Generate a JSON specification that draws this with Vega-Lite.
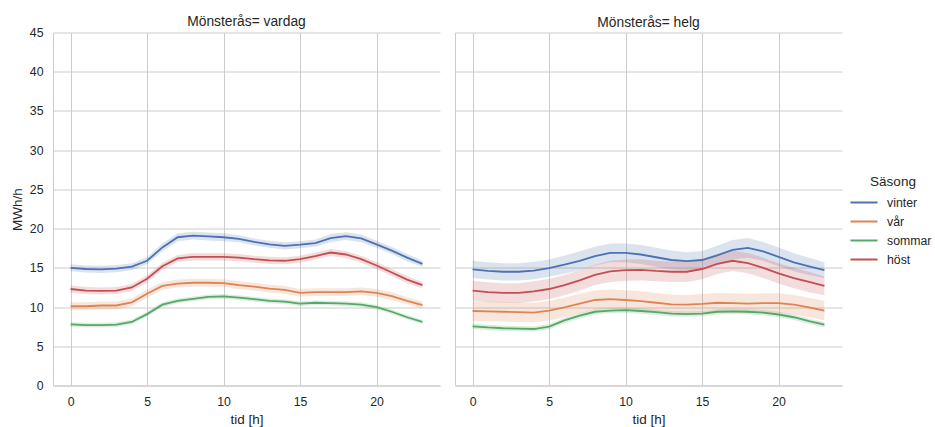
{
"$schema": "https://vega.github.io/schema/vega-lite/v6.json",
"padding": {"left": 10, "top": 14.5, "right": 5, "bottom": 0},
"config": {
 "font": "Liberation Sans",
 "view": {"stroke": null},
 "axis": {"gridColor": "#cccccc", "domainColor": "#cccccc", "ticks": false, "labelColor": "#262626", "titleColor": "#262626", "labelFontSize": 12.3, "titleFontSize": 13.5, "titleFontWeight": "normal", "labelPadding": 10, "titlePadding": 5, "gridWidth": 1, "domainWidth": 1},
 "title": {"fontSize": 13.8, "fontWeight": "normal", "color": "#262626"},
 "legend": {"titleFontSize": 13.5, "titleFontWeight": "normal", "labelFontSize": 12.3, "labelColor": "#262626", "titleColor": "#262626", "symbolType": "M-1.5,0H1.5", "symbolStrokeWidth": 2, "symbolSize": 324, "symbolOpacity": 1, "labelOffset": 13, "titleAnchor": "middle", "titlePadding": 4.5},
 "concat": {"spacing": 15}
},
"datasets": {"d": [
{"d":"vardag","s":"vinter","h":0,"v":15.0,"lo":14.55,"hi":15.45},
{"d":"vardag","s":"vinter","h":1,"v":14.85,"lo":14.4,"hi":15.3},
{"d":"vardag","s":"vinter","h":2,"v":14.8,"lo":14.35,"hi":15.25},
{"d":"vardag","s":"vinter","h":3,"v":14.9,"lo":14.45,"hi":15.35},
{"d":"vardag","s":"vinter","h":4,"v":15.15,"lo":14.7,"hi":15.6},
{"d":"vardag","s":"vinter","h":5,"v":15.9,"lo":15.45,"hi":16.35},
{"d":"vardag","s":"vinter","h":6,"v":17.6,"lo":17.1,"hi":18.1},
{"d":"vardag","s":"vinter","h":7,"v":18.9,"lo":18.4,"hi":19.4},
{"d":"vardag","s":"vinter","h":8,"v":19.1,"lo":18.6,"hi":19.6},
{"d":"vardag","s":"vinter","h":9,"v":19.0,"lo":18.5,"hi":19.5},
{"d":"vardag","s":"vinter","h":10,"v":18.9,"lo":18.4,"hi":19.4},
{"d":"vardag","s":"vinter","h":11,"v":18.7,"lo":18.25,"hi":19.15},
{"d":"vardag","s":"vinter","h":12,"v":18.3,"lo":17.85,"hi":18.75},
{"d":"vardag","s":"vinter","h":13,"v":18.0,"lo":17.55,"hi":18.45},
{"d":"vardag","s":"vinter","h":14,"v":17.8,"lo":17.35,"hi":18.25},
{"d":"vardag","s":"vinter","h":15,"v":17.95,"lo":17.5,"hi":18.4},
{"d":"vardag","s":"vinter","h":16,"v":18.15,"lo":17.7,"hi":18.6},
{"d":"vardag","s":"vinter","h":17,"v":18.8,"lo":18.3,"hi":19.3},
{"d":"vardag","s":"vinter","h":18,"v":19.05,"lo":18.55,"hi":19.55},
{"d":"vardag","s":"vinter","h":19,"v":18.75,"lo":18.25,"hi":19.25},
{"d":"vardag","s":"vinter","h":20,"v":18.0,"lo":17.55,"hi":18.45},
{"d":"vardag","s":"vinter","h":21,"v":17.2,"lo":16.75,"hi":17.65},
{"d":"vardag","s":"vinter","h":22,"v":16.3,"lo":15.85,"hi":16.75},
{"d":"vardag","s":"vinter","h":23,"v":15.5,"lo":15.1,"hi":15.9},
{"d":"vardag","s":"vår","h":0,"v":10.1,"lo":9.6,"hi":10.6},
{"d":"vardag","s":"vår","h":1,"v":10.1,"lo":9.6,"hi":10.6},
{"d":"vardag","s":"vår","h":2,"v":10.2,"lo":9.7,"hi":10.7},
{"d":"vardag","s":"vår","h":3,"v":10.2,"lo":9.7,"hi":10.7},
{"d":"vardag","s":"vår","h":4,"v":10.6,"lo":10.1,"hi":11.1},
{"d":"vardag","s":"vår","h":5,"v":11.7,"lo":11.2,"hi":12.2},
{"d":"vardag","s":"vår","h":6,"v":12.7,"lo":12.2,"hi":13.2},
{"d":"vardag","s":"vår","h":7,"v":13.0,"lo":12.5,"hi":13.5},
{"d":"vardag","s":"vår","h":8,"v":13.1,"lo":12.6,"hi":13.6},
{"d":"vardag","s":"vår","h":9,"v":13.1,"lo":12.6,"hi":13.6},
{"d":"vardag","s":"vår","h":10,"v":13.05,"lo":12.55,"hi":13.55},
{"d":"vardag","s":"vår","h":11,"v":12.8,"lo":12.3,"hi":13.3},
{"d":"vardag","s":"vår","h":12,"v":12.6,"lo":12.1,"hi":13.1},
{"d":"vardag","s":"vår","h":13,"v":12.35,"lo":11.85,"hi":12.85},
{"d":"vardag","s":"vår","h":14,"v":12.2,"lo":11.7,"hi":12.7},
{"d":"vardag","s":"vår","h":15,"v":11.8,"lo":11.3,"hi":12.3},
{"d":"vardag","s":"vår","h":16,"v":11.9,"lo":11.4,"hi":12.4},
{"d":"vardag","s":"vår","h":17,"v":11.9,"lo":11.4,"hi":12.4},
{"d":"vardag","s":"vår","h":18,"v":11.9,"lo":11.4,"hi":12.4},
{"d":"vardag","s":"vår","h":19,"v":12.0,"lo":11.5,"hi":12.5},
{"d":"vardag","s":"vår","h":20,"v":11.8,"lo":11.3,"hi":12.3},
{"d":"vardag","s":"vår","h":21,"v":11.4,"lo":10.9,"hi":11.9},
{"d":"vardag","s":"vår","h":22,"v":10.8,"lo":10.35,"hi":11.25},
{"d":"vardag","s":"vår","h":23,"v":10.25,"lo":9.8,"hi":10.7},
{"d":"vardag","s":"sommar","h":0,"v":7.8,"lo":7.5,"hi":8.1},
{"d":"vardag","s":"sommar","h":1,"v":7.7,"lo":7.4,"hi":8.0},
{"d":"vardag","s":"sommar","h":2,"v":7.7,"lo":7.4,"hi":8.0},
{"d":"vardag","s":"sommar","h":3,"v":7.75,"lo":7.45,"hi":8.05},
{"d":"vardag","s":"sommar","h":4,"v":8.1,"lo":7.8,"hi":8.4},
{"d":"vardag","s":"sommar","h":5,"v":9.1,"lo":8.8,"hi":9.4},
{"d":"vardag","s":"sommar","h":6,"v":10.3,"lo":10.0,"hi":10.6},
{"d":"vardag","s":"sommar","h":7,"v":10.8,"lo":10.5,"hi":11.1},
{"d":"vardag","s":"sommar","h":8,"v":11.05,"lo":10.75,"hi":11.35},
{"d":"vardag","s":"sommar","h":9,"v":11.3,"lo":11.0,"hi":11.6},
{"d":"vardag","s":"sommar","h":10,"v":11.35,"lo":11.05,"hi":11.65},
{"d":"vardag","s":"sommar","h":11,"v":11.2,"lo":10.9,"hi":11.5},
{"d":"vardag","s":"sommar","h":12,"v":11.0,"lo":10.7,"hi":11.3},
{"d":"vardag","s":"sommar","h":13,"v":10.8,"lo":10.5,"hi":11.1},
{"d":"vardag","s":"sommar","h":14,"v":10.7,"lo":10.4,"hi":11.0},
{"d":"vardag","s":"sommar","h":15,"v":10.45,"lo":10.15,"hi":10.75},
{"d":"vardag","s":"sommar","h":16,"v":10.55,"lo":10.25,"hi":10.85},
{"d":"vardag","s":"sommar","h":17,"v":10.5,"lo":10.2,"hi":10.8},
{"d":"vardag","s":"sommar","h":18,"v":10.45,"lo":10.15,"hi":10.75},
{"d":"vardag","s":"sommar","h":19,"v":10.3,"lo":10.0,"hi":10.6},
{"d":"vardag","s":"sommar","h":20,"v":10.0,"lo":9.7,"hi":10.3},
{"d":"vardag","s":"sommar","h":21,"v":9.4,"lo":9.1,"hi":9.7},
{"d":"vardag","s":"sommar","h":22,"v":8.7,"lo":8.4,"hi":9.0},
{"d":"vardag","s":"sommar","h":23,"v":8.1,"lo":7.85,"hi":8.35},
{"d":"vardag","s":"höst","h":0,"v":12.3,"lo":11.85,"hi":12.75},
{"d":"vardag","s":"höst","h":1,"v":12.1,"lo":11.65,"hi":12.55},
{"d":"vardag","s":"höst","h":2,"v":12.05,"lo":11.6,"hi":12.5},
{"d":"vardag","s":"höst","h":3,"v":12.1,"lo":11.65,"hi":12.55},
{"d":"vardag","s":"höst","h":4,"v":12.5,"lo":12.05,"hi":12.95},
{"d":"vardag","s":"höst","h":5,"v":13.6,"lo":13.15,"hi":14.05},
{"d":"vardag","s":"höst","h":6,"v":15.2,"lo":14.75,"hi":15.65},
{"d":"vardag","s":"höst","h":7,"v":16.2,"lo":15.75,"hi":16.65},
{"d":"vardag","s":"höst","h":8,"v":16.4,"lo":15.95,"hi":16.85},
{"d":"vardag","s":"höst","h":9,"v":16.4,"lo":15.95,"hi":16.85},
{"d":"vardag","s":"höst","h":10,"v":16.4,"lo":15.95,"hi":16.85},
{"d":"vardag","s":"höst","h":11,"v":16.3,"lo":15.85,"hi":16.75},
{"d":"vardag","s":"höst","h":12,"v":16.1,"lo":15.65,"hi":16.55},
{"d":"vardag","s":"höst","h":13,"v":15.95,"lo":15.5,"hi":16.4},
{"d":"vardag","s":"höst","h":14,"v":15.9,"lo":15.45,"hi":16.35},
{"d":"vardag","s":"höst","h":15,"v":16.1,"lo":15.65,"hi":16.55},
{"d":"vardag","s":"höst","h":16,"v":16.5,"lo":16.05,"hi":16.95},
{"d":"vardag","s":"höst","h":17,"v":16.95,"lo":16.5,"hi":17.4},
{"d":"vardag","s":"höst","h":18,"v":16.7,"lo":16.25,"hi":17.15},
{"d":"vardag","s":"höst","h":19,"v":16.1,"lo":15.65,"hi":16.55},
{"d":"vardag","s":"höst","h":20,"v":15.3,"lo":14.85,"hi":15.75},
{"d":"vardag","s":"höst","h":21,"v":14.4,"lo":13.95,"hi":14.85},
{"d":"vardag","s":"höst","h":22,"v":13.5,"lo":13.05,"hi":13.95},
{"d":"vardag","s":"höst","h":23,"v":12.8,"lo":12.4,"hi":13.2},
{"d":"helg","s":"vinter","h":0,"v":14.8,"lo":13.7,"hi":15.9},
{"d":"helg","s":"vinter","h":1,"v":14.6,"lo":13.5,"hi":15.7},
{"d":"helg","s":"vinter","h":2,"v":14.5,"lo":13.4,"hi":15.6},
{"d":"helg","s":"vinter","h":3,"v":14.5,"lo":13.4,"hi":15.6},
{"d":"helg","s":"vinter","h":4,"v":14.65,"lo":13.55,"hi":15.75},
{"d":"helg","s":"vinter","h":5,"v":14.95,"lo":13.85,"hi":16.05},
{"d":"helg","s":"vinter","h":6,"v":15.4,"lo":14.25,"hi":16.55},
{"d":"helg","s":"vinter","h":7,"v":15.9,"lo":14.7,"hi":17.1},
{"d":"helg","s":"vinter","h":8,"v":16.5,"lo":15.3,"hi":17.7},
{"d":"helg","s":"vinter","h":9,"v":16.9,"lo":15.7,"hi":18.1},
{"d":"helg","s":"vinter","h":10,"v":16.9,"lo":15.7,"hi":18.1},
{"d":"helg","s":"vinter","h":11,"v":16.7,"lo":15.5,"hi":17.9},
{"d":"helg","s":"vinter","h":12,"v":16.35,"lo":15.15,"hi":17.55},
{"d":"helg","s":"vinter","h":13,"v":16.0,"lo":14.8,"hi":17.2},
{"d":"helg","s":"vinter","h":14,"v":15.85,"lo":14.7,"hi":17.0},
{"d":"helg","s":"vinter","h":15,"v":16.0,"lo":14.85,"hi":17.15},
{"d":"helg","s":"vinter","h":16,"v":16.6,"lo":15.4,"hi":17.8},
{"d":"helg","s":"vinter","h":17,"v":17.3,"lo":16.05,"hi":18.55},
{"d":"helg","s":"vinter","h":18,"v":17.55,"lo":16.3,"hi":18.8},
{"d":"helg","s":"vinter","h":19,"v":17.1,"lo":15.9,"hi":18.3},
{"d":"helg","s":"vinter","h":20,"v":16.4,"lo":15.2,"hi":17.6},
{"d":"helg","s":"vinter","h":21,"v":15.7,"lo":14.55,"hi":16.85},
{"d":"helg","s":"vinter","h":22,"v":15.2,"lo":14.1,"hi":16.3},
{"d":"helg","s":"vinter","h":23,"v":14.7,"lo":13.7,"hi":15.7},
{"d":"helg","s":"vår","h":0,"v":9.5,"lo":8.25,"hi":10.75},
{"d":"helg","s":"vår","h":1,"v":9.45,"lo":8.2,"hi":10.7},
{"d":"helg","s":"vår","h":2,"v":9.4,"lo":8.15,"hi":10.65},
{"d":"helg","s":"vår","h":3,"v":9.35,"lo":8.1,"hi":10.6},
{"d":"helg","s":"vår","h":4,"v":9.3,"lo":8.05,"hi":10.55},
{"d":"helg","s":"vår","h":5,"v":9.55,"lo":8.3,"hi":10.8},
{"d":"helg","s":"vår","h":6,"v":9.95,"lo":8.7,"hi":11.2},
{"d":"helg","s":"vår","h":7,"v":10.45,"lo":9.2,"hi":11.7},
{"d":"helg","s":"vår","h":8,"v":10.9,"lo":9.65,"hi":12.15},
{"d":"helg","s":"vår","h":9,"v":11.0,"lo":9.75,"hi":12.25},
{"d":"helg","s":"vår","h":10,"v":10.9,"lo":9.65,"hi":12.15},
{"d":"helg","s":"vår","h":11,"v":10.75,"lo":9.5,"hi":12.0},
{"d":"helg","s":"vår","h":12,"v":10.55,"lo":9.3,"hi":11.8},
{"d":"helg","s":"vår","h":13,"v":10.35,"lo":9.1,"hi":11.6},
{"d":"helg","s":"vår","h":14,"v":10.3,"lo":9.05,"hi":11.55},
{"d":"helg","s":"vår","h":15,"v":10.4,"lo":9.15,"hi":11.65},
{"d":"helg","s":"vår","h":16,"v":10.55,"lo":9.3,"hi":11.8},
{"d":"helg","s":"vår","h":17,"v":10.5,"lo":9.25,"hi":11.75},
{"d":"helg","s":"vår","h":18,"v":10.45,"lo":9.2,"hi":11.7},
{"d":"helg","s":"vår","h":19,"v":10.5,"lo":9.25,"hi":11.75},
{"d":"helg","s":"vår","h":20,"v":10.5,"lo":9.25,"hi":11.75},
{"d":"helg","s":"vår","h":21,"v":10.3,"lo":9.05,"hi":11.55},
{"d":"helg","s":"vår","h":22,"v":9.95,"lo":8.7,"hi":11.2},
{"d":"helg","s":"vår","h":23,"v":9.55,"lo":8.3,"hi":10.8},
{"d":"helg","s":"sommar","h":0,"v":7.55,"lo":7.2,"hi":7.9},
{"d":"helg","s":"sommar","h":1,"v":7.4,"lo":7.05,"hi":7.75},
{"d":"helg","s":"sommar","h":2,"v":7.3,"lo":6.95,"hi":7.65},
{"d":"helg","s":"sommar","h":3,"v":7.25,"lo":6.9,"hi":7.6},
{"d":"helg","s":"sommar","h":4,"v":7.2,"lo":6.85,"hi":7.55},
{"d":"helg","s":"sommar","h":5,"v":7.5,"lo":7.15,"hi":7.85},
{"d":"helg","s":"sommar","h":6,"v":8.3,"lo":7.95,"hi":8.65},
{"d":"helg","s":"sommar","h":7,"v":8.9,"lo":8.55,"hi":9.25},
{"d":"helg","s":"sommar","h":8,"v":9.4,"lo":9.05,"hi":9.75},
{"d":"helg","s":"sommar","h":9,"v":9.55,"lo":9.2,"hi":9.9},
{"d":"helg","s":"sommar","h":10,"v":9.6,"lo":9.25,"hi":9.95},
{"d":"helg","s":"sommar","h":11,"v":9.5,"lo":9.15,"hi":9.85},
{"d":"helg","s":"sommar","h":12,"v":9.35,"lo":9.0,"hi":9.7},
{"d":"helg","s":"sommar","h":13,"v":9.15,"lo":8.8,"hi":9.5},
{"d":"helg","s":"sommar","h":14,"v":9.1,"lo":8.75,"hi":9.45},
{"d":"helg","s":"sommar","h":15,"v":9.15,"lo":8.8,"hi":9.5},
{"d":"helg","s":"sommar","h":16,"v":9.4,"lo":9.05,"hi":9.75},
{"d":"helg","s":"sommar","h":17,"v":9.45,"lo":9.1,"hi":9.8},
{"d":"helg","s":"sommar","h":18,"v":9.4,"lo":9.05,"hi":9.75},
{"d":"helg","s":"sommar","h":19,"v":9.3,"lo":8.95,"hi":9.65},
{"d":"helg","s":"sommar","h":20,"v":9.05,"lo":8.7,"hi":9.4},
{"d":"helg","s":"sommar","h":21,"v":8.7,"lo":8.35,"hi":9.05},
{"d":"helg","s":"sommar","h":22,"v":8.2,"lo":7.85,"hi":8.55},
{"d":"helg","s":"sommar","h":23,"v":7.75,"lo":7.4,"hi":8.1},
{"d":"helg","s":"höst","h":0,"v":12.1,"lo":10.85,"hi":13.35},
{"d":"helg","s":"höst","h":1,"v":11.9,"lo":10.65,"hi":13.15},
{"d":"helg","s":"höst","h":2,"v":11.8,"lo":10.55,"hi":13.05},
{"d":"helg","s":"höst","h":3,"v":11.8,"lo":10.55,"hi":13.05},
{"d":"helg","s":"höst","h":4,"v":12.0,"lo":10.7,"hi":13.3},
{"d":"helg","s":"höst","h":5,"v":12.3,"lo":11.0,"hi":13.6},
{"d":"helg","s":"höst","h":6,"v":12.8,"lo":11.5,"hi":14.1},
{"d":"helg","s":"höst","h":7,"v":13.4,"lo":12.1,"hi":14.7},
{"d":"helg","s":"höst","h":8,"v":14.1,"lo":12.8,"hi":15.4},
{"d":"helg","s":"höst","h":9,"v":14.55,"lo":13.2,"hi":15.9},
{"d":"helg","s":"höst","h":10,"v":14.7,"lo":13.35,"hi":16.05},
{"d":"helg","s":"höst","h":11,"v":14.75,"lo":13.4,"hi":16.1},
{"d":"helg","s":"höst","h":12,"v":14.6,"lo":13.3,"hi":15.9},
{"d":"helg","s":"höst","h":13,"v":14.5,"lo":13.2,"hi":15.8},
{"d":"helg","s":"höst","h":14,"v":14.5,"lo":13.2,"hi":15.8},
{"d":"helg","s":"höst","h":15,"v":14.85,"lo":13.55,"hi":16.15},
{"d":"helg","s":"höst","h":16,"v":15.5,"lo":14.2,"hi":16.8},
{"d":"helg","s":"höst","h":17,"v":15.9,"lo":14.6,"hi":17.2},
{"d":"helg","s":"höst","h":18,"v":15.6,"lo":14.3,"hi":16.9},
{"d":"helg","s":"höst","h":19,"v":15.0,"lo":13.7,"hi":16.3},
{"d":"helg","s":"höst","h":20,"v":14.3,"lo":13.0,"hi":15.6},
{"d":"helg","s":"höst","h":21,"v":13.7,"lo":12.4,"hi":15.0},
{"d":"helg","s":"höst","h":22,"v":13.2,"lo":11.9,"hi":14.5},
{"d":"helg","s":"höst","h":23,"v":12.7,"lo":11.5,"hi":13.9}
]},
"hconcat": [
{
 "width": 387, "height": 353,
 "title": {"text": "Mönsterås= vardag", "offset": -2},
 "data": {"name": "d"},
 "transform": [{"filter": "datum.d === 'vardag'"}],
 "encoding": {
  "x": {"field": "h", "type": "quantitative", "scale": {"domain": [-1.15, 24.15], "nice": false, "zero": false}, "axis": {"values": [0,5,10,15,20], "title": "tid [h]"}},
  "color": {"field": "s", "type": "nominal", "scale": {"domain": ["vinter","vår","sommar","höst"], "range": ["#4c72b0","#dd8452","#55a868","#c44e52"]}, "legend": {"title": "Säsong", "orient": "none", "legendX": 801, "legendY": 142}}
 },
 "layer": [
  {"mark": {"type": "area", "opacity": 0.2}, "encoding": {"y": {"field": "lo", "type": "quantitative", "scale": {"domain": [0,45], "nice": false}, "axis": {"values": [0,5,10,15,20,25,30,35,40,45], "title": "MWh/h"}}, "y2": {"field": "hi"}}},
  {"mark": {"type": "line", "strokeWidth": 1.8}, "encoding": {"y": {"field": "v", "type": "quantitative", "scale": {"domain": [0,45], "nice": false}, "axis": {"values": [0,5,10,15,20,25,30,35,40,45], "title": "MWh/h"}}}}
 ]
},
{
 "width": 387, "height": 353,
 "title": {"text": "Mönsterås= helg", "offset": 3},
 "data": {"name": "d"},
 "transform": [{"filter": "datum.d === 'helg'"}],
 "encoding": {
  "x": {"field": "h", "type": "quantitative", "scale": {"domain": [-1.15, 24.15], "nice": false, "zero": false}, "axis": {"values": [0,5,10,15,20], "title": "tid [h]"}},
  "color": {"field": "s", "type": "nominal", "scale": {"domain": ["vinter","vår","sommar","höst"], "range": ["#4c72b0","#dd8452","#55a868","#c44e52"]}, "legend": {"title": "Säsong", "orient": "none", "legendX": 801, "legendY": 142}}
 },
 "layer": [
  {"mark": {"type": "area", "opacity": 0.2}, "encoding": {"y": {"field": "lo", "type": "quantitative", "scale": {"domain": [0,45], "nice": false}, "axis": {"values": [0,5,10,15,20,25,30,35,40,45], "title": null, "labels": false}}, "y2": {"field": "hi"}}},
  {"mark": {"type": "line", "strokeWidth": 1.8}, "encoding": {"y": {"field": "v", "type": "quantitative", "scale": {"domain": [0,45], "nice": false}, "axis": {"values": [0,5,10,15,20,25,30,35,40,45], "title": null, "labels": false}}}}
 ]
}
]
}
